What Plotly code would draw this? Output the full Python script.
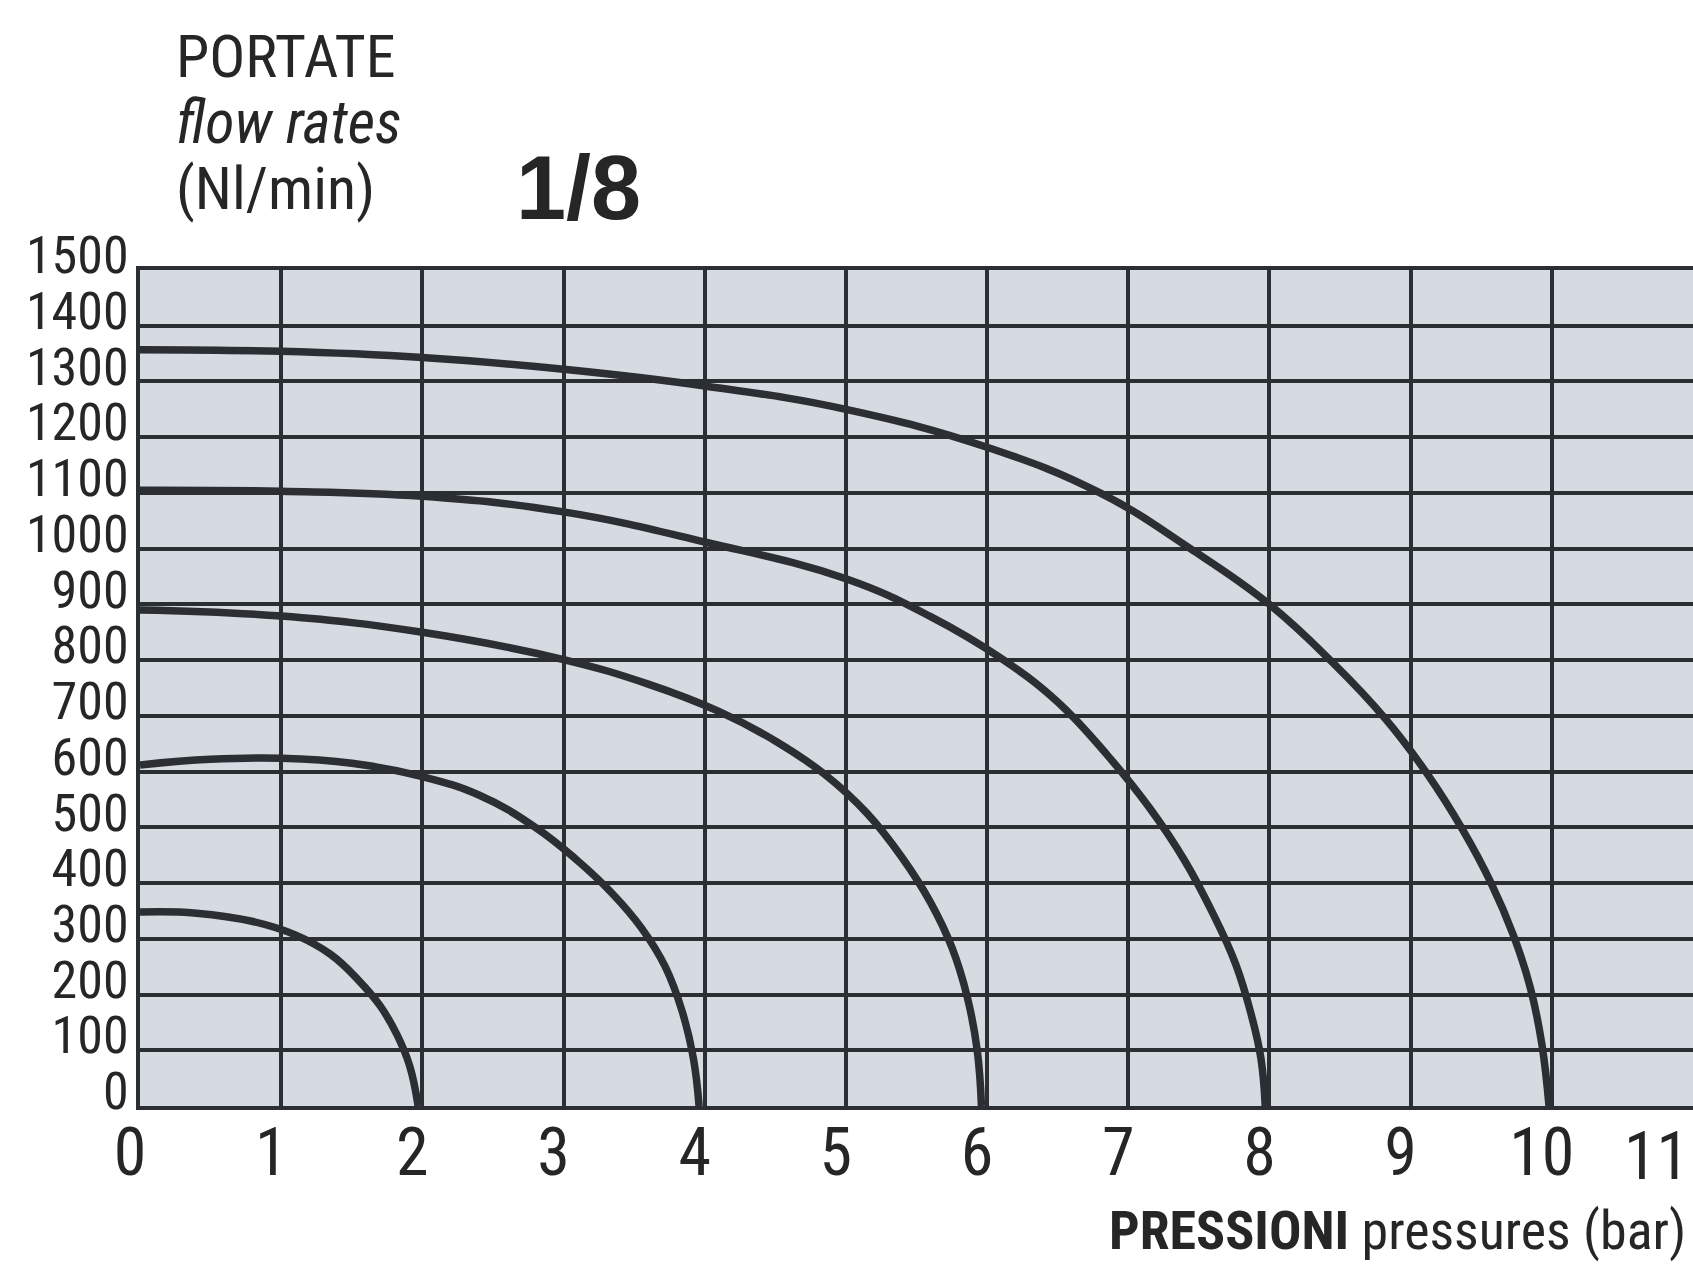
import plotly.graph_objects as go

# ---- data ----
# pressures (bar) and flow rates (Nl/min) for each curve
pressure_c1 = [0, 0.4, 0.8, 1.1, 1.35, 1.55, 1.7, 1.82, 1.91, 1.97]
flow_c1 = [348, 346, 331, 307, 272, 225, 180, 128, 72, 0]

pressure_c2 = [0, 0.5, 1.0, 1.5, 2.0, 2.4, 2.8, 3.1, 3.35, 3.55, 3.72, 3.84, 3.92, 3.96]
flow_c2 = [612, 622, 624, 615, 591, 558, 500, 440, 380, 320, 250, 170, 85, 0]

pressure_c3 = [0, 1, 2, 3, 3.6, 4.1, 4.5, 4.85, 5.15, 5.4, 5.6, 5.75, 5.86, 5.93, 5.96]
flow_c3 = [890, 879, 850, 801, 757, 708, 655, 595, 525, 445, 365, 285, 195, 100, 0]

pressure_c4 = [0, 1, 2, 3, 4, 5, 5.6, 6.1, 6.5, 6.85, 7.15, 7.4, 7.6, 7.76, 7.87, 7.94, 7.97]
flow_c4 = [1105, 1103, 1094, 1066, 1012, 946, 878, 803, 725, 630, 535, 440, 345, 255, 165, 85, 0]

pressure_c5 = [0, 1, 2, 3, 4, 5, 6, 6.8, 7.44, 8, 8.45, 8.82, 9.12, 9.37, 9.57, 9.73, 9.85, 9.93, 9.98]
flow_c5 = [1357, 1354, 1343, 1322, 1292, 1250, 1182, 1100, 1000, 900, 795, 695, 595, 495, 400, 305, 210, 110, 0]

x_ticks = list(range(0, 12))
y_ticks = list(range(0, 1600, 100))

curves = [
    (pressure_c1, flow_c1),
    (pressure_c2, flow_c2),
    (pressure_c3, flow_c3),
    (pressure_c4, flow_c4),
    (pressure_c5, flow_c5),
]

INK = "#2b2e33"
TXT = "#262626"
NARROW = ("Noto Sans ExtraCondensed, Noto Sans Condensed, Roboto Condensed, "
          "DejaVu Sans Condensed, sans-serif")

fig = go.Figure()
for xs, ys in curves:
    fig.add_trace(go.Scatter(
        x=xs, y=ys, mode="lines",
        line=dict(color=INK, width=7.5, shape="spline", smoothing=1.2),
        showlegend=False, hoverinfo="skip",
    ))

# plot area at page x 140..1693, y 270..1106
fig.update_layout(
    width=1693, height=1271,
    margin=dict(l=140, r=0, t=270, b=165, pad=0),
    paper_bgcolor="white",
    plot_bgcolor="#d6dae1",
    font=dict(family=NARROW, color=TXT),
)

# the last tick (at the right edge) gets its label as an annotation so it stays inside
x_ticktext = [str(v) for v in x_ticks[:-1]] + [""]

fig.update_xaxes(
    range=[0, 11], tickmode="array", tickvals=x_ticks, ticktext=x_ticktext,
    showgrid=True, gridcolor=INK, gridwidth=3.5,
    showline=True, linecolor=INK, linewidth=4, mirror=True,
    zeroline=False, ticks="", ticklen=0,
    tickfont=dict(size=66, family=NARROW, color=TXT),
    ticklabelstandoff=-14, ticklabelshift=-10,
    automargin=False, fixedrange=True,
)
fig.update_yaxes(
    range=[0, 1500], tickmode="array", tickvals=y_ticks, ticktext=[str(v) for v in y_ticks],
    showgrid=True, gridcolor=INK, gridwidth=3.5,
    showline=True, linecolor=INK, linewidth=4, mirror=False,
    zeroline=False, ticks="", ticklen=0,
    tickfont=dict(size=52, family=NARROW, color=TXT),
    ticklabelstandoff=-3, ticklabelshift=-15,
    automargin=False, fixedrange=True,
)

def px(x):
    return (x - 140) / 1553.0

def py(y):
    return (1106 - y) / 836.0

fig.add_annotation(text=str(x_ticks[-1]), xref="paper", yref="paper", x=px(1691), y=py(1156),
                   xanchor="right", yanchor="middle", showarrow=False,
                   font=dict(size=66, family=NARROW, color=TXT))
fig.add_annotation(text="PORTATE", xref="paper", yref="paper", x=px(174), y=py(56),
                   xanchor="left", yanchor="middle", showarrow=False,
                   font=dict(size=60, family=NARROW, color=TXT))
fig.add_annotation(text="<i>flow rates</i>", xref="paper", yref="paper", x=px(174), y=py(122),
                   xanchor="left", yanchor="middle", showarrow=False,
                   font=dict(size=60, family=NARROW, color=TXT))
fig.add_annotation(text="(Nl/min)", xref="paper", yref="paper", x=px(174), y=py(188),
                   xanchor="left", yanchor="middle", showarrow=False,
                   font=dict(size=60, family=NARROW, color=TXT))
fig.add_annotation(text="<b>1/8</b>", xref="paper", yref="paper", x=px(578), y=py(188),
                   xanchor="center", yanchor="middle", showarrow=False,
                   font=dict(size=90, family="Liberation Sans, Arial, sans-serif", color=TXT))
fig.add_annotation(text="<b>PRESSIONI</b> pressures (bar)", xref="paper", yref="paper",
                   x=px(1688), y=py(1230),
                   xanchor="right", yanchor="middle", showarrow=False,
                   font=dict(size=54, family=NARROW, color=TXT))

fig.write_html("out.html", config={"displayModeBar": False},
               post_script="document.body.style.margin='0px';")
